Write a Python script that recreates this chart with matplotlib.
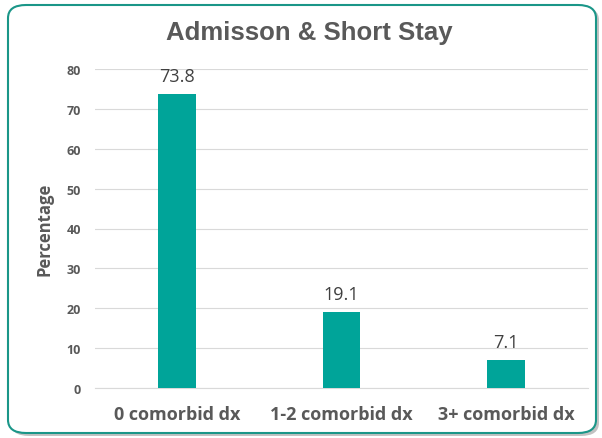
import matplotlib
matplotlib.use("Agg")
import matplotlib.pyplot as plt
from matplotlib.patches import FancyBboxPatch

categories = ["0 comorbid dx", "1-2 comorbid dx", "3+ comorbid dx"]
values = [73.8, 19.1, 7.1]
yticks = [0, 10, 20, 30, 40, 50, 60, 70, 80]

fig = plt.figure(figsize=(6.02, 4.39), dpi=100)

# shadow and frame
shadow = FancyBboxPatch((11 / 602, 2 / 439), 588 / 602, 429 / 439,
                        boxstyle="round,pad=0,rounding_size=0.03",
                        transform=fig.transFigure, facecolor="#9a9a9a",
                        edgecolor="none", alpha=0.6, zorder=0)
fig.patches.append(shadow)
frame = FancyBboxPatch((8 / 602, 5 / 439), 588 / 602, 428 / 439,
                       boxstyle="round,pad=0,rounding_size=0.03",
                       transform=fig.transFigure, facecolor="white",
                       edgecolor="#1a9688", linewidth=1.5, zorder=1)
fig.patches.append(frame)

ax = fig.add_axes([95 / 602, 1 - 389 / 439, 493 / 602, 319 / 439])
ax.set_facecolor("none")
ax.set_zorder(2)

x = list(range(len(categories)))
bars = ax.bar(x, values, width=0.23, color="#00A499", zorder=3)
for xi, v in zip(x, values):
    ax.text(xi, v + 2.3, f"{v}", ha="center", va="bottom", fontsize=13,
            color="#404040", family="Open Sans")

ax.set_xlim(-0.5, 2.5)
ax.set_ylim(0, 80)
ax.set_yticks(yticks)
ax.set_yticklabels([str(t) for t in yticks], fontsize=9, fontweight="bold",
                   color="#595959", family="Open Sans")
ax.set_xticks(x)
ax.set_xticklabels(categories, fontsize=13, fontweight="bold",
                   color="#595959", family="Open Sans")
ax.tick_params(axis="both", length=0)
ax.tick_params(axis="y", pad=10)
ax.tick_params(axis="x", pad=12)
ax.grid(axis="y", color="#d9d9d9", linewidth=0.8, zorder=0)
for s in ["top", "right", "left"]:
    ax.spines[s].set_visible(False)
ax.spines["bottom"].set_color("#d9d9d9")

ax.set_ylabel("Percentage", fontsize=12, fontweight="bold", color="#595959",
              family="Open Sans")
ax.yaxis.set_label_coords(-0.085, 0.5)

fig.text(309 / 602, 1 - 33 / 439, "Admisson & Short Stay", ha="center",
         va="center", fontsize=18.5, fontweight="bold", color="#595959",
         family="Liberation Sans")

fig.savefig("out.png", dpi=100)
